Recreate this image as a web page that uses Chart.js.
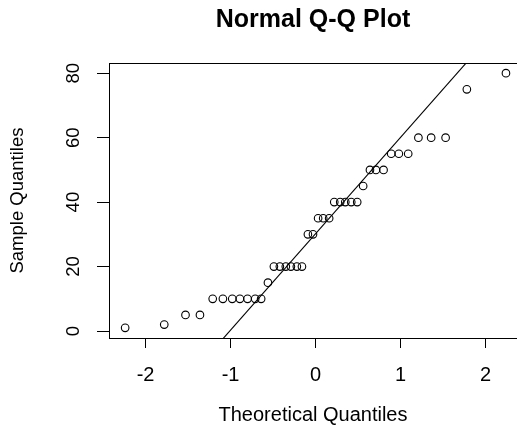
<!DOCTYPE html>
<html>
<head>
<meta charset="utf-8">
<script src="https://cdn.jsdelivr.net/npm/chart.js@4/dist/chart.umd.min.js"></script>
<style>
  html, body { margin: 0; padding: 0; background: #ffffff; overflow: hidden; }
  #wrap { width: 517px; height: 427px; }
  canvas { display: block; background: #ffffff; }
</style>
</head>
<body>
<div id="wrap"><canvas id="c" width="517" height="427"></canvas></div>
<script>
// ---- data ----
const theoreticalQuantiles = [
  -2.24, -1.78, -1.53, -1.36, -1.21, -1.09, -0.98, -0.89, -0.80, -0.71,
  -0.64, -0.56, -0.49, -0.42, -0.35, -0.29, -0.22, -0.16, -0.09, -0.03,
   0.03,  0.09,  0.16,  0.22,  0.29,  0.35,  0.42,  0.49,  0.56,  0.64,
   0.71,  0.80,  0.89,  0.98,  1.09,  1.21,  1.36,  1.53,  1.78,  2.24
];
const sampleQuantiles = [
   1,  2,  5,  5, 10, 10, 10, 10, 10, 10,
  10, 15, 20, 20, 20, 20, 20, 20, 30, 30,
  35, 35, 35, 40, 40, 40, 40, 40, 45, 50,
  50, 50, 55, 55, 55, 60, 60, 60, 75, 80
];
// reference line (qqline) end points
const qqLineX = [-1.2, 1.9];
const qqLineY = [-5.7, 87.0];

const xTickValues = [-2, -1, 0, 1, 2];
const yTickValues = [0, 20, 40, 60, 80];

const titleText = 'Normal Q-Q Plot';
const xTitleText = 'Theoretical Quantiles';
const yTitleText = 'Sample Quantiles';

// ---- chart ----
const FAMILY = "'Liberation Sans', Arial, Helvetica, sans-serif";
const points = theoreticalQuantiles.map((x, i) => ({ x: x, y: sampleQuantiles[i] }));
const linePts = qqLineX.map((x, i) => ({ x: x, y: qqLineY[i] }));

new Chart(document.getElementById('c'), {
  type: 'scatter',
  data: {
    datasets: [
      {
        type: 'scatter',
        data: points,
        xAxisID: 'x',
        yAxisID: 'y',
        pointStyle: 'circle',
        pointRadius: 3.8,
        pointHoverRadius: 3.8,
        borderWidth: 1.1,
        borderColor: '#000000',
        backgroundColor: 'rgba(0,0,0,0)'
      },
      {
        type: 'line',
        data: linePts,
        xAxisID: 'x',
        yAxisID: 'y',
        borderColor: '#000000',
        borderWidth: 1.1,
        pointRadius: 0,
        fill: false,
        tension: 0
      }
    ]
  },
  options: {
    responsive: false,
    devicePixelRatio: 1,
    animation: false,
    events: [],
    layout: { padding: 0, autoPadding: false },
    plugins: {
      legend: { display: false },
      tooltip: { enabled: false },
      title: {
        display: true,
        text: titleText,
        fullSize: false,
        color: '#000000',
        font: { family: FAMILY, size: 25, weight: 'bold', lineHeight: 1.2 },
        padding: { top: 5, bottom: 28 }
      }
    },
    scales: {
      x: {
        type: 'linear',
        position: 'bottom',
        min: -2.43,
        max: 2.37,
        afterBuildTicks: s => { s.ticks = xTickValues.map(v => ({ value: v })); },
        afterFit: s => { s.height = 89; },
        grid: { display: true, drawOnChartArea: false, drawTicks: true, tickLength: 10, tickColor: '#000000', tickWidth: 1 },
        border: { display: true, color: '#000000', width: 1 },
        ticks: {
          color: '#000000',
          padding: 15,
          maxRotation: 0,
          minRotation: 0,
          font: { family: FAMILY, size: 20, lineHeight: 1.2 },
          callback: v => String(v)
        },
        title: {
          display: true,
          text: xTitleText,
          color: '#000000',
          font: { family: FAMILY, size: 20, lineHeight: 1.2 },
          padding: { top: 0, bottom: 0 }
        }
      },
      xTop: {
        type: 'linear',
        axis: 'x',
        position: 'top',
        display: true,
        grid: { display: false, drawTicks: false, drawOnChartArea: false },
        border: { display: true, color: '#000000', width: 1 },
        ticks: { display: false }
      },
      y: {
        type: 'linear',
        position: 'left',
        min: -2.16,
        max: 83.16,
        afterBuildTicks: s => { s.ticks = yTickValues.map(v => ({ value: v })); },
        afterFit: s => { s.width = 109; },
        grid: { display: true, drawOnChartArea: false, drawTicks: true, tickLength: 12, tickColor: '#000000', tickWidth: 1 },
        border: { display: true, color: '#000000', width: 1 },
        ticks: {
          color: '#000000',
          padding: 13,
          minRotation: 90,
          maxRotation: 90,
          crossAlign: 'center',
          font: { family: FAMILY, size: 18.5, lineHeight: 1.2 },
          callback: v => String(v)
        },
        title: {
          display: true,
          text: yTitleText,
          color: '#000000',
          font: { family: FAMILY, size: 18.5, lineHeight: 1.2 },
          padding: { top: 7, bottom: 0 }
        }
      }
    }
  }
});
</script>
</body>
</html>
